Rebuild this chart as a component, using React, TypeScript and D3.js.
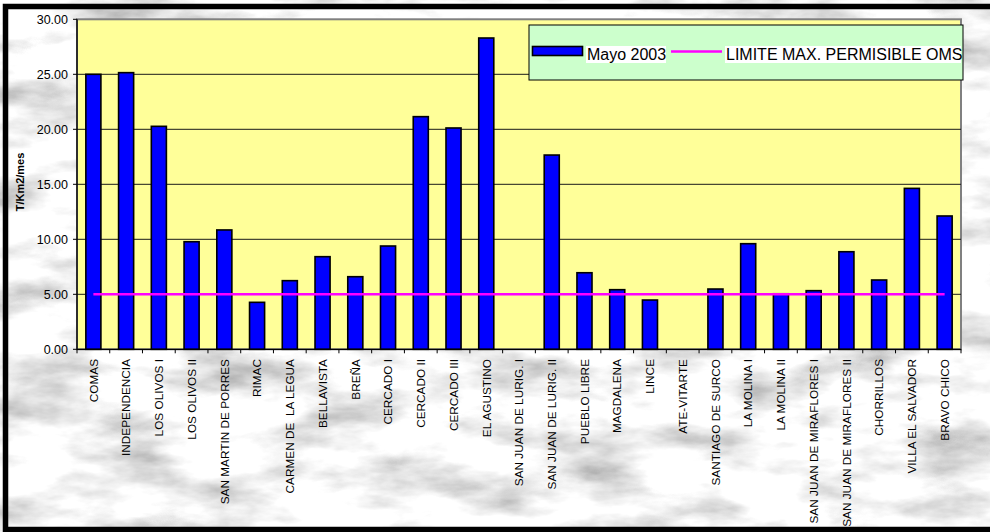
import React from "react";
import * as d3 from "d3";

const categories: string[] = [
  "COMAS", "INDEPENDENCIA", "LOS OLIVOS I", "LOS OLIVOS II", "SAN MARTIN DE PORRES",
  "RIMAC", "CARMEN DE  LA LEGUA", "BELLAVISTA", "BREÑA", "CERCADO I", "CERCADO II",
  "CERCADO III", "EL AGUSTINO", "SAN JUAN DE LURIG. I", "SAN JUAN DE LURIG. II",
  "PUEBLO LIBRE", "MAGDALENA", "LINCE", "ATE-VITARTE", "SANTIAGO DE SURCO",
  "LA MOLINA I", "LA MOLINA II", "SAN JUAN DE MIRAFLORES I", "SAN JUAN DE MIRAFLORES II",
  "CHORRILLOS", "VILLA EL SALVADOR", "BRAVO CHICO",
];
const mayo2003: number[] = [
  25.0, 25.15, 20.27, 9.78, 10.85, 4.27, 6.24, 8.42, 6.6, 9.39, 21.15, 20.12, 28.3, 0,
  17.66, 6.96, 5.42, 4.48, 0, 5.48, 9.6, 5.05, 5.33, 8.87, 6.3, 14.63, 12.12,
];
const limiteOMS: number[] = categories.map(() => 5.0);
const yTicks: number[] = [0, 5, 10, 15, 20, 25, 30];
const seriesNames: string[] = ["Mayo 2003", "LIMITE MAX. PERMISIBLE OMS"];
const yTitle = "T/Km2/mes";

const W = 990;
const H = 532;
const plot = { left: 77, right: 961, top: 19.3, bottom: 349.3 };
const FONT = "'Liberation Sans', Arial, sans-serif";

export default function App() {
  const x = d3.scaleBand<string>().domain(categories).range([plot.left, plot.right]).padding(0);
  const y = d3.scaleLinear().domain([0, 30]).range([plot.bottom, plot.top]);
  const bw = x.bandwidth() * 0.46;
  const center = (c: string) => (x(c) as number) + x.bandwidth() / 2;
  const line = d3
    .line<number>()
    .x((_, i) => center(categories[i]))
    .y((d) => y(d));

  return (
    <svg
      width={W}
      height={H}
      style={{ position: "absolute", left: 0, top: 0, display: "block" }}
      fontFamily={FONT}
    >
      <defs>
        <filter id="marble" x="0" y="0" width="100%" height="100%" filterUnits="userSpaceOnUse">
          <feTurbulence type="fractalNoise" baseFrequency="0.011 0.028" numOctaves={5} seed={11} result="n" />
          <feColorMatrix
            in="n"
            type="matrix"
            values="1.25 0 0 0 0.3  1.25 0 0 0 0.3  1.25 0 0 0 0.3  0 0 0 0 1"
          />
        </filter>
      </defs>
      <rect x={0} y={0} width={W} height={H} fill="#e8e8e8" />
      <rect x={0} y={0} width={W} height={H} filter="url(#marble)" />
      {/* outer frame */}
      <rect x={5.5} y={6.5} width={1100} height={523} fill="none" stroke="#000" strokeWidth={5.5} />

      {/* plot area */}
      <rect
        x={plot.left}
        y={plot.top}
        width={plot.right - plot.left}
        height={plot.bottom - plot.top}
        fill="#FFFF99"
        stroke="#808080"
        strokeWidth={2}
      />
      {yTicks.slice(1, -1).map((t) => (
        <line key={t} x1={plot.left} x2={plot.right} y1={y(t)} y2={y(t)} stroke="#1a1a1a" strokeWidth={1} />
      ))}

      {/* y axis */}
      <line x1={plot.left} x2={plot.left} y1={plot.top} y2={plot.bottom} stroke="#000" strokeWidth={1.3} />
      {yTicks.map((t) => (
        <g key={t}>
          <line x1={plot.left - 4} x2={plot.left} y1={y(t)} y2={y(t)} stroke="#000" strokeWidth={1} />
          <text x={68} y={y(t)} dy="0.35em" textAnchor="end" fontSize={12.5} fill="#000">
            {t.toFixed(2)}
          </text>
        </g>
      ))}
      <text
        transform={`translate(24,182) rotate(-90)`}
        textAnchor="middle"
        fontSize={11}
        fontWeight="bold"
        fill="#000"
      >
        {yTitle}
      </text>

      {/* bars */}
      {mayo2003.map((v, i) =>
        v > 0 ? (
          <rect
            key={i}
            x={center(categories[i]) - bw / 2}
            y={y(v)}
            width={bw}
            height={y(0) - y(v)}
            fill="#0000FF"
            stroke="#000"
            strokeWidth={1.6}
          />
        ) : null
      )}

      {/* x axis */}
      <line x1={plot.left} x2={plot.right} y1={plot.bottom} y2={plot.bottom} stroke="#000" strokeWidth={1.3} />
      {categories.map((c) => (
        <line
          key={"t" + c}
          x1={x(c) as number}
          x2={x(c) as number}
          y1={plot.bottom}
          y2={plot.bottom + 4}
          stroke="#000"
          strokeWidth={1}
        />
      ))}
      <line x1={plot.right} x2={plot.right} y1={plot.bottom} y2={plot.bottom + 4} stroke="#000" strokeWidth={1} />
      {categories.map((c) => (
        <text
          key={"l" + c}
          transform={`translate(${center(c)},359) rotate(-90)`}
          dy="0.36em"
          textAnchor="end"
          fontSize={11.8}
          fill="#000"
          style={{ whiteSpace: "pre" }}
        >
          {c}
        </text>
      ))}

      {/* limit line */}
      <path d={line(limiteOMS) || ""} fill="none" stroke="#FF00FF" strokeWidth={2.5} />

      {/* legend */}
      <rect x={529} y={25} width={434} height={55} fill="#CCFFCC" stroke="#000" strokeWidth={1} />
      <rect x={532.5} y={46.5} width={50} height={9} fill="#0000FF" stroke="#000" strokeWidth={1.6} />
      <rect x={586} y={46} width={80} height={17} fill="#fff" />
      <text x={587} y={60} fontSize={16} fill="#000">
        {seriesNames[0]}
      </text>
      <line x1={671} x2={722} y1={51.5} y2={51.5} stroke="#FF00FF" strokeWidth={2.5} />
      <rect x={725} y={46} width={236} height={17} fill="#fff" />
      <text x={726} y={60} fontSize={16} fill="#000">
        {seriesNames[1]}
      </text>
    </svg>
  );
}
